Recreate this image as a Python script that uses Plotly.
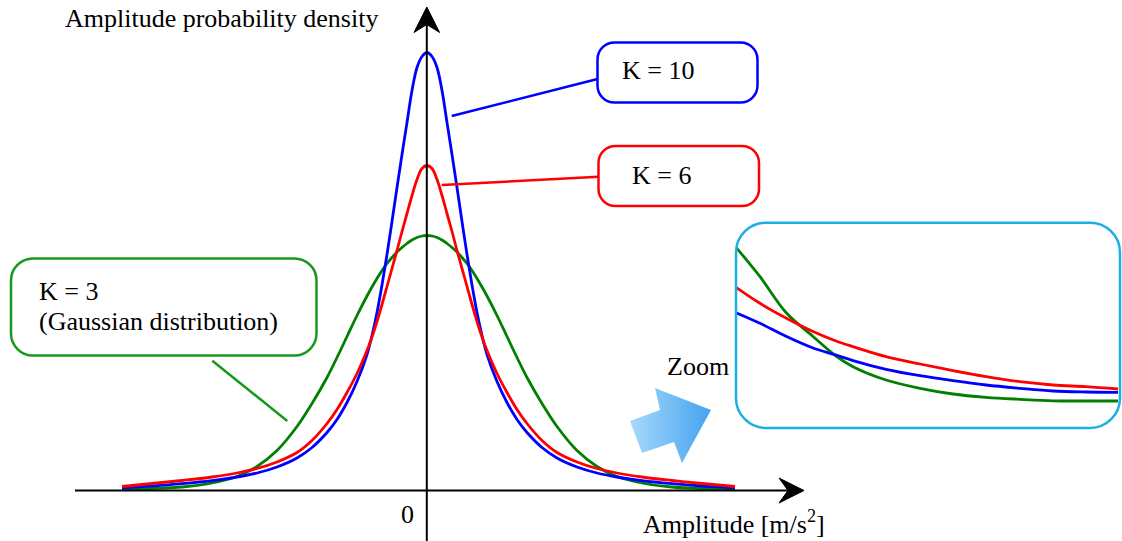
import plotly.graph_objects as go

# ---------------- data ----------------
# amplitude (arbitrary units, 0 at the vertical axis)
AMPLITUDE = [-3.05, -2.75, -2.45, -2.15, -1.90, -1.70, -1.50, -1.30, -1.15, -1.00,
             -0.90, -0.80, -0.70, -0.60, -0.55, -0.50, -0.45, -0.40, -0.35, -0.30,
             -0.25, -0.20, -0.15, -0.10, -0.05, 0.00,
             0.05, 0.10, 0.15, 0.20, 0.25, 0.30, 0.35, 0.40, 0.45, 0.50,
             0.55, 0.60, 0.70, 0.80, 0.90, 1.00, 1.15, 1.30, 1.50, 1.70,
             1.90, 2.15, 2.45, 2.75, 3.08]

# amplitude probability density (arbitrary units)
DENSITY_K10 = [0.027, 0.045, 0.068, 0.098, 0.135, 0.175, 0.235, 0.325, 0.430, 0.580,
               0.710, 0.880, 1.090, 1.360, 1.550, 1.780, 2.055, 2.360, 2.690, 3.030,
               3.360, 3.680, 4.000, 4.230, 4.340, 4.380,
               4.340, 4.230, 4.000, 3.680, 3.360, 3.030, 2.690, 2.360, 2.055, 1.780,
               1.550, 1.360, 1.090, 0.880, 0.710, 0.580, 0.430, 0.325, 0.235, 0.175,
               0.135, 0.098, 0.068, 0.045, 0.027]

DENSITY_K6 = [0.040, 0.070, 0.100, 0.135, 0.175, 0.220, 0.285, 0.380, 0.500, 0.670,
              0.810, 0.980, 1.170, 1.400, 1.535, 1.690, 1.860, 2.040, 2.220, 2.400,
              2.590, 2.770, 2.950, 3.110, 3.220, 3.250,
              3.220, 3.110, 2.950, 2.770, 2.590, 2.400, 2.220, 2.040, 1.860, 1.690,
              1.535, 1.400, 1.170, 0.980, 0.810, 0.670, 0.500, 0.380, 0.285, 0.220,
              0.175, 0.135, 0.100, 0.070, 0.040]

DENSITY_K3 = [0.013, 0.020, 0.035, 0.075, 0.140, 0.240, 0.400, 0.640, 0.870, 1.130,
              1.330, 1.540, 1.750, 1.945, 2.035, 2.120, 2.200, 2.270, 2.330, 2.385,
              2.430, 2.470, 2.505, 2.530, 2.545, 2.550,
              2.545, 2.530, 2.505, 2.470, 2.430, 2.385, 2.330, 2.270, 2.200, 2.120,
              2.035, 1.945, 1.750, 1.540, 1.330, 1.130, 0.870, 0.640, 0.400, 0.240,
              0.140, 0.075, 0.035, 0.020, 0.013]

# zoomed view of the right tail
ZOOM_X = [0.00, 0.24, 0.50, 0.77, 1.00, 1.17, 1.50, 1.84, 2.17, 2.50, 2.84, 3.17, 3.50, 3.82]
ZOOM_K10 = [1.153, 1.047, 0.917, 0.800, 0.730, 0.674, 0.587, 0.523, 0.473, 0.430, 0.397, 0.370, 0.360, 0.357]
ZOOM_K6 = [1.407, 1.247, 1.100, 0.965, 0.870, 0.814, 0.714, 0.640, 0.574, 0.514, 0.463, 0.430, 0.413, 0.390]
ZOOM_K3 = [1.807, 1.513, 1.155, 0.915, 0.720, 0.613, 0.480, 0.397, 0.340, 0.307, 0.287, 0.272, 0.270, 0.270]

LABEL_Y = "Amplitude probability density"
LABEL_X = "Amplitude [m/s<sup>2</sup>]"
LABEL_K10 = "K = 10"
LABEL_K6 = "K = 6"
LABEL_K3 = "K = 3"
LABEL_K3B = "(Gaussian distribution)"
LABEL_ZOOM = "Zoom"
LABEL_ZERO = "0"

# ---------------- layout helpers ----------------
W, H = 1122, 541
X0_PX, Y0_PX, PPU = 427.0, 490.5, 100.0
BLUE, RED, GREEN = "#0000FF", "#FF0000", "#008000"
GREEN_BOX = "#17991c"
SKY = "#1AAFE6"
FONT = "Liberation Serif"


def fx(p):
    return (p - X0_PX) / PPU


def fy(p):
    return (Y0_PX - p) / PPU


def pt(x, y):
    return f"{fx(x):.4f},{fy(y):.4f}"


def rrect(x0, y0, x1, y1, r):
    k = 0.5523 * r
    return (f"M{pt(x0 + r, y0)} L{pt(x1 - r, y0)} "
            f"C{pt(x1 - r + k, y0)} {pt(x1, y0 + r - k)} {pt(x1, y0 + r)} "
            f"L{pt(x1, y1 - r)} "
            f"C{pt(x1, y1 - r + k)} {pt(x1 - r + k, y1)} {pt(x1 - r, y1)} "
            f"L{pt(x0 + r, y1)} "
            f"C{pt(x0 + r - k, y1)} {pt(x0, y1 - r + k)} {pt(x0, y1 - r)} "
            f"L{pt(x0, y0 + r)} "
            f"C{pt(x0, y0 + r - k)} {pt(x0 + r - k, y0)} {pt(x0 + r, y0)} Z")


fig = go.Figure()

for yv, col in [(DENSITY_K3, GREEN), (DENSITY_K10, BLUE), (DENSITY_K6, RED)]:
    fig.add_trace(go.Scatter(x=AMPLITUDE, y=yv, mode="lines",
                             line=dict(color=col, width=2.8, shape="spline", smoothing=1.0),
                             hoverinfo="skip", showlegend=False))

for yv, col in [(ZOOM_K3, GREEN), (ZOOM_K10, BLUE), (ZOOM_K6, RED)]:
    fig.add_trace(go.Scatter(x=ZOOM_X, y=yv, mode="lines", xaxis="x2", yaxis="y2",
                             line=dict(color=col, width=2.8, shape="spline", smoothing=1.0),
                             hoverinfo="skip", showlegend=False))

# gradient "Zoom" block arrow
ARROW_PX = [(630, 421), (660, 410), (655, 388), (711, 410), (682, 463), (674, 442), (642, 453), (630, 421)]
fig.add_trace(go.Scatter(x=[fx(a) for a, b in ARROW_PX], y=[fy(b) for a, b in ARROW_PX],
                         mode="lines", fill="toself", line=dict(width=0, color="rgba(0,0,0,0)"),
                         fillgradient=dict(type="horizontal",
                                           colorscale=[[0, "#a6dafa"], [1, "#45a2f0"]]),
                         hoverinfo="skip", showlegend=False))

shapes = []
# axes
shapes.append(dict(type="line", x0=fx(75), y0=fy(490.5), x1=fx(790), y1=fy(490.5),
                   line=dict(color="black", width=2)))
shapes.append(dict(type="line", x0=fx(426.8), y0=fy(541), x1=fx(426.8), y1=fy(24),
                   line=dict(color="black", width=2)))
shapes.append(dict(type="path",
                   path=f"M{pt(804, 490.5)} L{pt(779, 478)} L{pt(788, 490.5)} L{pt(779, 503)} Z",
                   fillcolor="black", line=dict(color="black", width=1)))
shapes.append(dict(type="path",
                   path=f"M{pt(426.8, 7)} L{pt(414, 32.5)} L{pt(426.8, 24.5)} L{pt(439.6, 32.5)} Z",
                   fillcolor="black", line=dict(color="black", width=1)))
# label boxes
shapes.append(dict(type="path", path=rrect(597.5, 42.5, 757.5, 102.5, 17),
                   line=dict(color=BLUE, width=2.5), fillcolor="rgba(0,0,0,0)"))
shapes.append(dict(type="path", path=rrect(598.5, 146, 759, 206, 17),
                   line=dict(color=RED, width=2.5), fillcolor="rgba(0,0,0,0)"))
shapes.append(dict(type="path", path=rrect(11, 258.5, 316.5, 355.5, 22),
                   line=dict(color=GREEN_BOX, width=2.5), fillcolor="rgba(0,0,0,0)"))
shapes.append(dict(type="path", path=rrect(736, 222.7, 1120, 428, 30),
                   line=dict(color=SKY, width=2.5), fillcolor="rgba(0,0,0,0)"))
# callout lines
shapes.append(dict(type="line", x0=fx(597.5), y0=fy(79), x1=fx(451.7), y1=fy(116),
                   line=dict(color=BLUE, width=2.5)))
shapes.append(dict(type="line", x0=fx(598.5), y0=fy(176.7), x1=fx(441.7), y1=fy(185),
                   line=dict(color=RED, width=2.5)))
shapes.append(dict(type="line", x0=fx(212.3), y0=fy(360.7), x1=fx(287.3), y1=fy(421),
                   line=dict(color=GREEN_BOX, width=2.5)))

annotations = []


def txt(text, x, y, xanchor="left"):
    annotations.append(dict(text=text, x=fx(x), y=fy(y), xref="x", yref="y",
                            xanchor=xanchor, yanchor="middle", showarrow=False,
                            font=dict(family=FONT, size=26, color="black")))


txt(LABEL_Y, 63, 18)
txt(LABEL_K10, 658.4, 70.3, "center")
txt(LABEL_K6, 661.7, 175.5, "center")
txt(LABEL_K3, 37, 291.7)
txt(LABEL_K3B, 37, 321.5)
txt(LABEL_ZOOM, 665, 366)
txt(LABEL_ZERO, 407.3, 514, "center")
txt(LABEL_X, 640.7, 522)

fig.update_layout(
    width=W, height=H, autosize=False,
    margin=dict(l=0, r=0, t=0, b=0),
    paper_bgcolor="white", plot_bgcolor="white",
    xaxis=dict(range=[fx(0), fx(W)], visible=False, domain=[0, 1]),
    yaxis=dict(range=[fy(H), fy(0)], visible=False, domain=[0, 1]),
    xaxis2=dict(range=[0, 3.84], visible=False, domain=[736 / W, 1120 / W], anchor="y2"),
    yaxis2=dict(range=[0, 2.053], visible=False,
                domain=[(H - 428) / H, (H - 222.7) / H], anchor="x2"),
    shapes=shapes, annotations=annotations,
)

fig.write_html("out.html", config={"displayModeBar": False},
               post_script="document.body.style.margin='0';document.body.style.overflow='hidden';")
